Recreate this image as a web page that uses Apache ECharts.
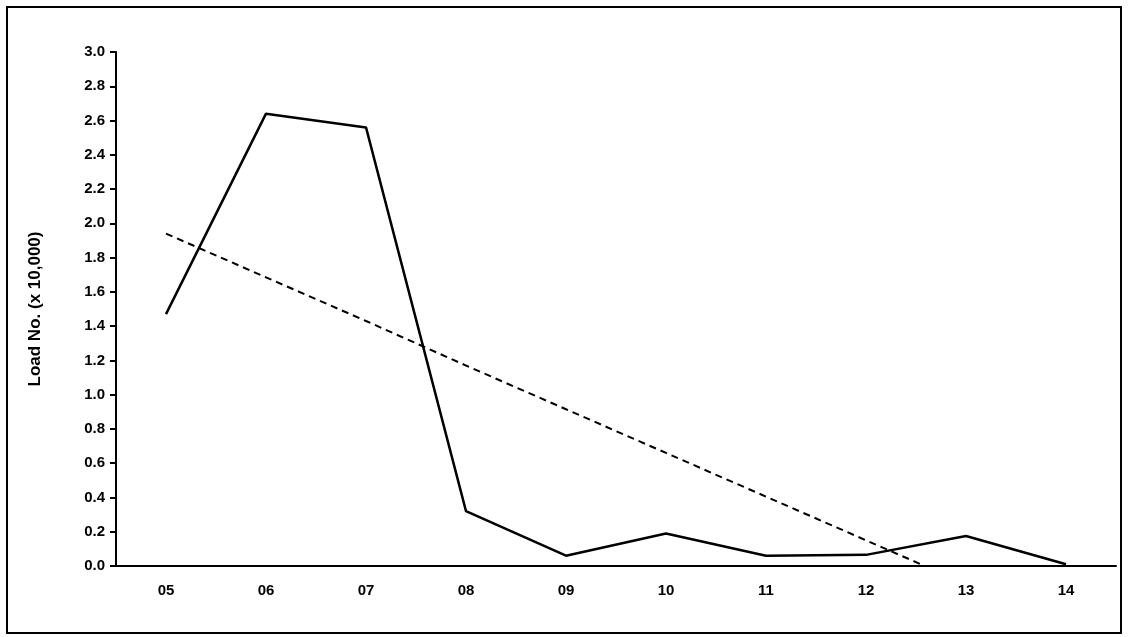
<!DOCTYPE html>
<html>
<head>
<meta charset="UTF-8">
<script src="https://cdn.jsdelivr.net/npm/echarts@6/dist/echarts.min.js"></script>
<style>html,body{margin:0;padding:0;background:#fff}#main{width:1128px;height:637px}</style>
</head>
<body>
<div id="main"></div>
<script>
var years = ['05', '06', '07', '08', '09', '10', '11', '12', '13', '14'];
var loads = [1.47, 2.64, 2.56, 0.32, 0.06, 0.19, 0.06, 0.065, 0.175, 0.01];
// linear trend, runs below zero after 12 and is clipped by the axis
var trend = [1.94, 1.685, 1.43, 1.17, 0.915, 0.66, 0.405, 0.15, -0.105];
var yTicks = ['0.0', '0.2', '0.4', '0.6', '0.8', '1.0', '1.2', '1.4', '1.6', '1.8', '2.0', '2.2', '2.4', '2.6', '2.8', '3.0'];

var chart = echarts.init(document.getElementById('main'));
var font = 'Arial, "Liberation Sans", sans-serif';
chart.setOption({
    animation: false,
    graphic: [{
        type: 'rect', shape: { x: 7, y: 7, width: 1114, height: 626 },
        style: { fill: 'none', stroke: '#000', lineWidth: 2 }
    }],
    grid: { left: 116, right: 12, top: 52, bottom: 71 },
    xAxis: {
        type: 'category', data: years, boundaryGap: true,
        axisLine: { lineStyle: { color: '#000', width: 2 } },
        axisTick: { length: 6, lineStyle: { color: '#000', width: 2 } },
        axisLabel: { color: '#000', fontWeight: 'bold', fontSize: 15, fontFamily: font, margin: 17 }
    },
    yAxis: {
        type: 'value', min: 0, max: 3, interval: 0.2,
        name: 'Load No. (x 10,000)', nameLocation: 'middle', nameGap: 72,
        nameTextStyle: { color: '#000', fontWeight: 'bold', fontSize: 17, fontFamily: font },
        splitLine: { show: false },
        axisLine: { show: true, lineStyle: { color: '#000', width: 2 } },
        axisTick: { show: true, length: 6, lineStyle: { color: '#000', width: 2 } },
        axisLabel: {
            color: '#000', fontWeight: 'bold', fontSize: 15, fontFamily: font, margin: 11,
            formatter: function (v) { return yTicks[Math.round(v * 5)]; }
        }
    },
    series: [{
        type: 'line', data: loads, symbol: 'none', clip: true,
        lineStyle: { color: '#000', width: 2.5 }
    }, {
        type: 'line', data: trend, symbol: 'none', clip: true,
        lineStyle: { color: '#000', width: 2, type: [7, 5] }
    }]
});
</script>
</body>
</html>
